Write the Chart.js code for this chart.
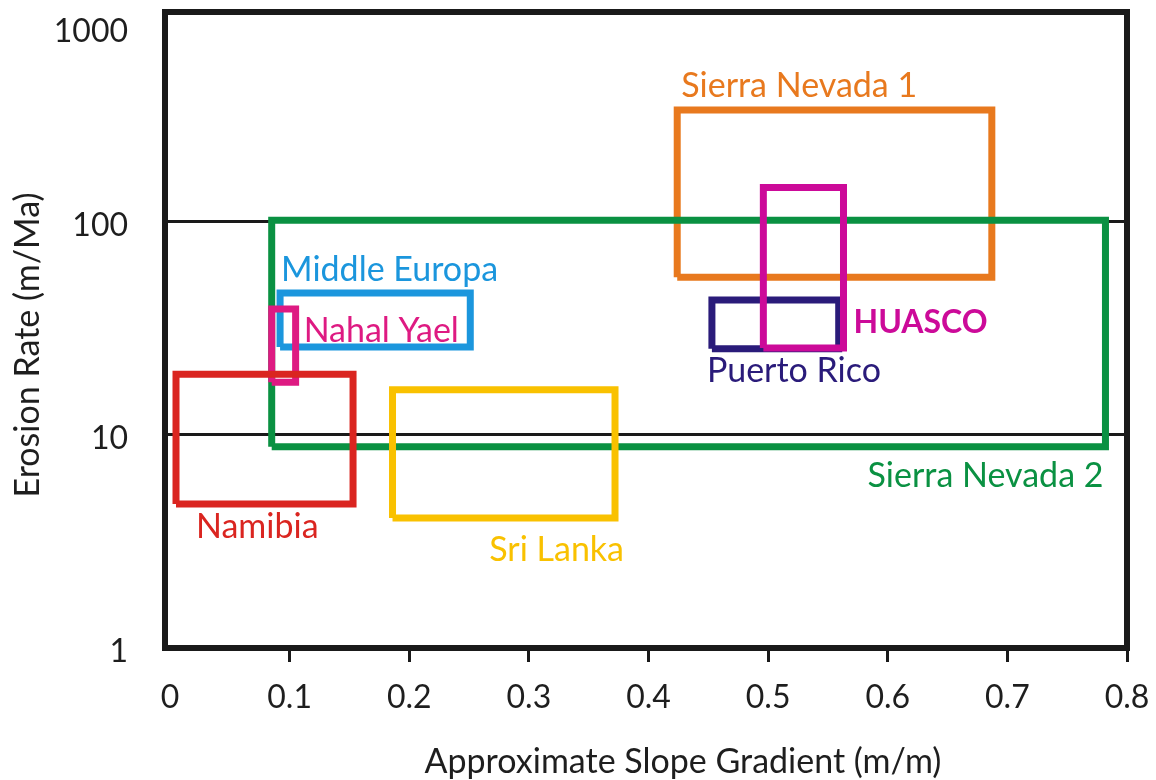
<!DOCTYPE html>
<html>
<head>
<meta charset="utf-8">
<script src="https://cdn.jsdelivr.net/npm/chart.js@4/dist/chart.umd.min.js"></script>
<style>
  html, body { margin: 0; padding: 0; background: #fff; }
  #wrap { width: 1156px; height: 780px; }
</style>
</head>
<body>
<div id="wrap"><canvas id="c" width="1156" height="780"></canvas></div>
<script>
// regions, drawn bottom to top
const regions = ['Sierra Nevada 1', 'Sierra Nevada 2', 'Puerto Rico', 'HUASCO', 'Middle Europa', 'Nahal Yael', 'Namibia', 'Sri Lanka'];
const slopeMin = [0.424, 0.085, 0.453, 0.496, 0.092, 0.085, 0.005, 0.186];
const slopeMax = [0.687, 0.782, 0.559, 0.563, 0.251, 0.105, 0.153, 0.372];
const erosionMin = [55, 8.8, 25.4, 25.6, 25.9, 17.7, 4.74, 4.08];
const erosionMax = [336, 102, 43, 145, 46.4, 39, 19.3, 16.3];
const regionColors = ['#E8791E', '#0A9142', '#2A1B7A', '#CC0A99', '#1B96DD', '#DE1A82', '#DA2520', '#F9C100'];

const yTicks = [1, 10, 100, 1000];
const yTickLabels = ['1', '10', '100', '1000'];
const xTicks = [0, 0.1, 0.2, 0.3, 0.4, 0.5, 0.6, 0.7, 0.8];
const xTickLabels = ['0', '0.1', '0.2', '0.3', '0.4', '0.5', '0.6', '0.7', '0.8'];

const FONT = 'Lato, "DejaVu Sans", sans-serif';
const TEXT = '#1e1e1e';

// where each name sits relative to its box (px offsets)
const labelPlace = [
  { x: 'min', y: 'max', dx: 4, dy: -13, align: 'left' },
  { x: 'max', y: 'min', dx: -2, dy: 40, align: 'right' },
  { x: 'min', y: 'min', dx: -5, dy: 33, align: 'left' },
  { x: 'max', y: 'min', dx: 10, dy: -15, align: 'left', bold: true },
  { x: 'min', y: 'max', dx: 1, dy: -12, align: 'left' },
  { x: 'max', y: 'max', dx: 8, dy: 33, align: 'left' },
  { x: 'min', y: 'min', dx: 20, dy: 34, align: 'left' },
  { x: 'max', y: 'min', dx: 9, dy: 43, align: 'right' }
];

const datasets = regions.map((name, i) => ({
  label: name,
  data: [
    { x: slopeMin[i], y: erosionMin[i] },
    { x: slopeMax[i], y: erosionMin[i] },
    { x: slopeMax[i], y: erosionMax[i] },
    { x: slopeMin[i], y: erosionMax[i] },
    { x: slopeMin[i], y: erosionMin[i] }
  ],
  showLine: true,
  borderColor: regionColors[i],
  borderWidth: 7,
  borderJoinStyle: 'miter',
  pointRadius: 0,
  fill: false,
  order: regions.length - i
}));

const extras = {
  id: 'extras',
  afterDatasetsDraw(chart) {
    const { ctx, chartArea: a, scales: { x, y } } = chart;
    ctx.save();
    // region names
    regions.forEach((name, i) => {
      const p = labelPlace[i];
      const px = x.getPixelForValue(p.x === 'min' ? slopeMin[i] : slopeMax[i]);
      const py = y.getPixelForValue(p.y === 'min' ? erosionMin[i] : erosionMax[i]);
      ctx.font = p.bold ? 'bold 32px ' + FONT : '34px ' + FONT;
      ctx.fillStyle = regionColors[i];
      ctx.textAlign = p.align;
      ctx.textBaseline = 'alphabetic';
      ctx.fillText(name, px + p.dx, py + p.dy);
    });
    // frame
    ctx.strokeStyle = '#1a1a1a';
    ctx.lineWidth = 6;
    ctx.strokeRect(a.left, a.top, a.right - a.left, a.bottom - a.top);
    // y tick labels
    ctx.font = '32px ' + FONT;
    ctx.fillStyle = TEXT;
    ctx.textAlign = 'right';
    ctx.textBaseline = 'middle';
    yTicks.forEach((v, i) => {
      const py = Math.max(y.getPixelForValue(v) + 4, a.top + 20);
      ctx.fillText(yTickLabels[i], 128, py);
    });
    // axis titles
    ctx.font = '34px ' + FONT;
    ctx.textAlign = 'center';
    ctx.textBaseline = 'alphabetic';
    ctx.fillText('Approximate Slope Gradient (m/m)', 683, 773);
    ctx.translate(39, 345);
    ctx.rotate(-Math.PI / 2);
    ctx.fillText('Erosion Rate (m/Ma)', 0, 0);
    ctx.restore();
  }
};

new Chart(document.getElementById('c'), {
  type: 'scatter',
  data: { datasets },
  options: {
    responsive: false,
    animation: false,
    layout: { padding: { top: 12, right: 29, left: 0, bottom: 0 } },
    plugins: { legend: { display: false }, tooltip: { enabled: false } },
    scales: {
      x: {
        type: 'linear',
        min: -0.0042,
        max: 0.8,
        afterBuildTicks: s => { s.ticks = xTicks.map(v => ({ value: v })); },
        afterFit: s => { s.height = 132; s.paddingLeft = 0; s.paddingRight = 0; },
        border: { display: false },
        grid: {
          drawOnChartArea: false,
          drawTicks: true,
          tickLength: 14,
          tickWidth: 3,
          tickColor: c => (c.tick && c.tick.value === 0 ? 'rgba(0,0,0,0)' : '#1a1a1a')
        },
        ticks: {
          padding: 16,
          color: TEXT,
          font: { family: FONT, size: 32 },
          maxRotation: 0,
          callback: v => xTickLabels[xTicks.indexOf(v)] ?? ''
        }
      },
      y: {
        type: 'logarithmic',
        min: 1,
        max: 968,
        afterBuildTicks: s => { s.ticks = yTicks.map(v => ({ value: v })); },
        afterFit: s => { s.width = 165; },
        border: { display: false },
        grid: {
          drawTicks: false,
          lineWidth: 3,
          color: c => (c.tick && (c.tick.value === 10 || c.tick.value === 100) ? '#1a1a1a' : 'rgba(0,0,0,0)')
        },
        ticks: { display: false }
      }
    }
  },
  plugins: [extras]
});
</script>
</body>
</html>
